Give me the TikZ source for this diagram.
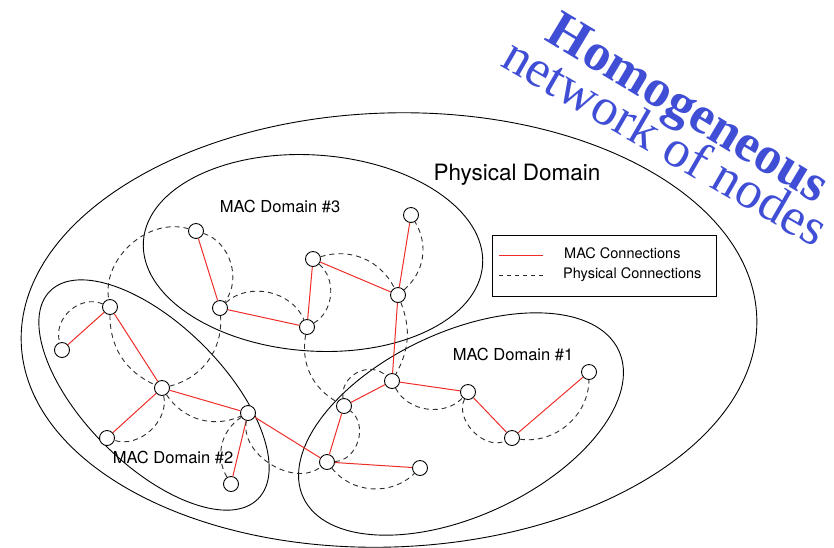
\documentclass[tikz,border=0pt]{standalone}
\usepackage{fontspec}
\setmainfont{TeX Gyre Heros}
\newfontfamily\titleserif{Liberation Serif}
\usetikzlibrary{shapes.geometric}
\definecolor{macred}{RGB}{238,45,40}
\definecolor{titleblue}{RGB}{64,78,214}
\definecolor{dashgray}{RGB}{45,45,45}
\begin{document}
\begin{tikzpicture}[x=1pt,y=1pt,
  region/.style={ellipse, draw, line width=0.9pt, inner sep=0pt},
  station/.style={circle, draw, fill=white, line width=0.9pt, minimum size=15pt, inner sep=0pt},
  mac/.style={macred, line width=1pt},
  phys/.style={dashgray, line width=0.9pt, dash pattern=on 5pt off 4pt},
  lab/.style={font=\fontsize{16.5}{19}\selectfont, inner sep=0pt, anchor=base},
  leglab/.style={font=\fontsize{14.5}{17}\selectfont, inner sep=0pt, anchor=base west},
]
\useasboundingbox (0,-547) rectangle (834,0);

% domains
\node[region, minimum width=736pt, minimum height=434pt, rotate=2] (physdom) at (389,-330) {};
\node[region, minimum width=340pt, minimum height=196pt, rotate=-4] (dom3) at (313,-253) {};
\node[region, minimum width=294pt, minimum height=140pt, rotate=-45] (dom2) at (154,-395) {};
\node[region, minimum width=348pt, minimum height=184pt, rotate=25] (dom1) at (461,-424) {};

% domain labels
\node[font=\fontsize{22.5}{26}\selectfont, inner sep=0pt, anchor=base] (physlab) at (517,-180) {Physical Domain};
\node[lab] (lab3) at (280,-212) {MAC Domain \#3};
\node[lab] (lab1) at (513,-360) {MAC Domain \#1};
\node[lab] (lab2) at (173,-463) {MAC Domain \#2};

% stations of MAC domain #3
\node[station] (a1) at (196,-231) {};
\node[station] (a2) at (220,-308) {};
\node[station] (a3) at (307,-327) {};
\node[station] (a4) at (313,-259) {};
\node[station] (a5) at (398,-295) {};
\node[station] (a6) at (411,-215) {};
% stations of MAC domain #2
\node[station] (b1) at (110,-307) {};
\node[station] (b2) at (62,-350) {};
\node[station] (b3) at (162,-388) {};
\node[station] (b4) at (107,-438) {};
\node[station] (b5) at (248,-413) {};
\node[station] (b6) at (231,-484) {};
% stations of MAC domain #1
\node[station] (c1) at (327,-462) {};
\node[station] (c2) at (344,-406) {};
\node[station] (c3) at (392,-381) {};
\node[station] (c4) at (468,-392) {};
\node[station] (c5) at (512,-438) {};
\node[station] (c6) at (589,-372) {};
\node[station] (c7) at (420,-468) {};

% MAC connections
\draw[mac] (a1) -- (a2);
\draw[mac] (a2) -- (a3);
\draw[mac] (a3) -- (a4);
\draw[mac] (a4) -- (a5);
\draw[mac] (a5) -- (a6);
\draw[mac] (a5) -- (c3);
\draw[mac] (b1) -- (b2);
\draw[mac] (b1) -- (b3);
\draw[mac] (b3) -- (b4);
\draw[mac] (b3) -- (b5);
\draw[mac] (b5) -- (b6);
\draw[mac] (b5) -- (c1);
\draw[mac] (c1) -- (c2);
\draw[mac] (c2) -- (c3);
\draw[mac] (c3) -- (c4);
\draw[mac] (c4) -- (c5);
\draw[mac] (c5) -- (c6);
\draw[mac] (c1) -- (c7);

% physical connections
\draw[phys] (a1) to[bend left=55] (a2);
\draw[phys] (a1) to[bend right=58] (b1);
\draw[phys] (a2) to[bend left=55] (a3);
\draw[phys] (a3) to[bend right=55] (a4);
\draw[phys] (a4) to[bend left=40] (a5);
\draw[phys] (a5) to[bend right=40] (a6);
\draw[phys] (a3) to[bend right=35] (c2);
\draw[phys] (a5) to[bend left=25] (c3);
\draw[phys] (b1) to[bend right=65, looseness=1.1] (b2);
\draw[phys] (b1) to[bend right=33] (b3);
\draw[phys] (b3) to[bend right=40] (a2);
\draw[phys] (b3) to[bend left=60] (b4);
\draw[phys] (b3) to[bend right=40] (b5);
\draw[phys] (b5) to[bend right=44] (b6);
\draw[phys] (b5) to[bend right=70] (c1);
\draw[phys] (c1) to[bend right=70, looseness=1.1] (c2);
\draw[phys] (c2) to[bend left=70, looseness=1.2] (c3);
\draw[phys] (c3) to[bend right=55] (c4);
\draw[phys] (c4) to[bend right=70] (c5);
\draw[phys] (c5) to[bend right=49] (c6);
\draw[phys] (c1) to[bend right=48] (c7);

% legend
\node[draw, line width=0.9pt, minimum width=224pt, minimum height=61pt, inner sep=0pt, anchor=north west] (legend) at (492,-235) {};
\coordinate (macA) at (499,-255);
\coordinate (macB) at (543,-255);
\coordinate (physA) at (499,-275);
\coordinate (physB) at (543,-275);
\draw[mac] (macA) -- (macB);
\draw[phys, dash pattern=on 4pt off 4pt] (physA) -- (physB);
\node[leglab] (legmac) at (564,-258) {MAC Connections};
\node[leglab] (legphys) at (563,-278) {Physical Connections};

% title
\node[titleblue, font=\titleserif\bfseries\fontsize{53}{60}\selectfont, inner sep=0pt, rotate=-31] (title1) at (686,-112) {Homogeneous};
\node[titleblue, font=\titleserif\fontsize{52.5}{60}\selectfont, inner sep=0pt, rotate=-30] (title2) at (666,-141) {network of nodes};
\end{tikzpicture}
\end{document}
